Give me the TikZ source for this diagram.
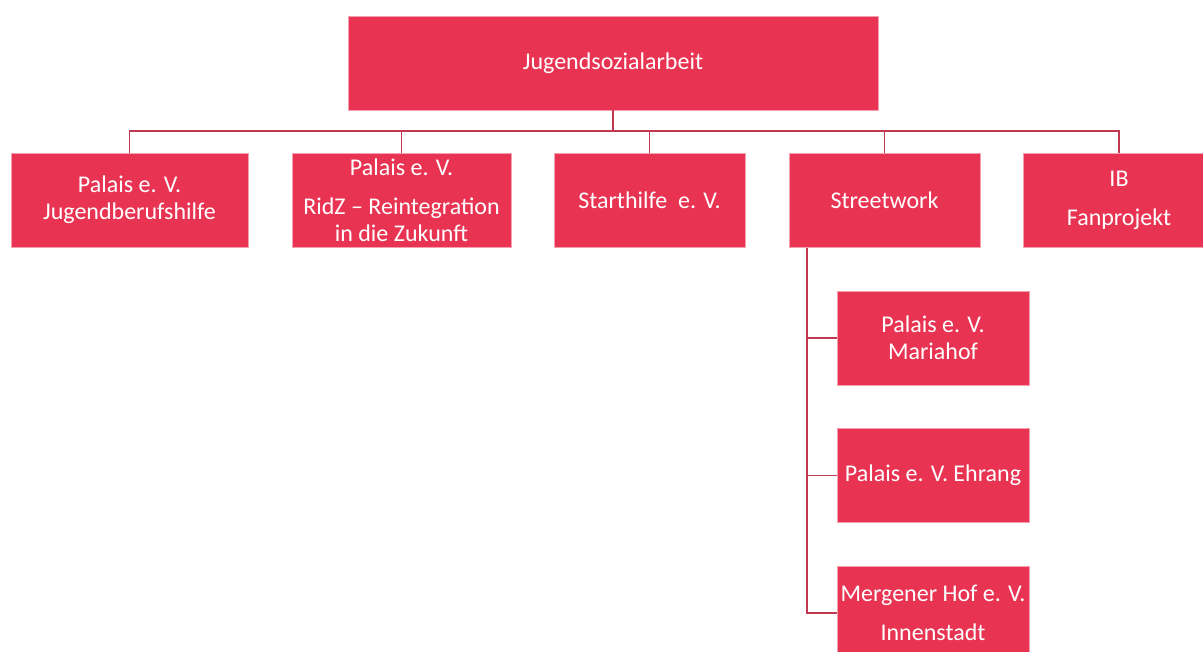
\documentclass[tikz,border=0pt]{standalone}
\usepackage{fontspec}
\setmainfont{Carlito}
\definecolor{boxred}{RGB}{232,52,82}
\definecolor{linered}{RGB}{192,56,82}
\definecolor{edgepink}{RGB}{246,160,175}
\begin{document}
\begin{tikzpicture}[x=1pt,y=-1pt,
  orgbox/.style={rectangle,fill=boxred,draw=edgepink,line width=0.6pt,inner sep=0pt,
    text=white,align=center,font=\fontsize{24}{27}\selectfont},
  conn/.style={draw=linered,line width=1.8pt}]
\clip (0,0) rectangle (1203,652);
\fill[white] (0,0) rectangle (1203,652);
\node[orgbox,minimum width=530pt,minimum height=94pt] (top) at (613,63) {Jugendsozialarbeit};
\node[orgbox,minimum width=237pt,minimum height=94pt] (b1) at (129.5,200) {Palais e. V.\\Jugendberufshilfe};
\node[orgbox,minimum width=219pt,minimum height=94pt] (b2) at (401.5,200) {Palais e. V.\\[12pt]RidZ -- Reintegration\\in die Zukunft};
\node[orgbox,minimum width=191pt,minimum height=94pt] (b3) at (649.5,200) {Starthilfe\ \ e. V.};
\node[orgbox,minimum width=191pt,minimum height=94pt] (b4) at (884.5,200) {Streetwork};
\node[orgbox,minimum width=192pt,minimum height=94pt] (b5) at (1119,200) {IB\\[12pt]Fanprojekt};
\node[orgbox,minimum width=192pt,minimum height=94pt] (s1) at (933,338) {Palais e. V.\\Mariahof};
\node[orgbox,minimum width=192pt,minimum height=94pt] (s2) at (933,475.5) {Palais e. V. Ehrang};
\node[orgbox,minimum width=192pt,minimum height=94pt] (s3) at (933,613) {Mergener Hof e. V.\\[12pt]Innenstadt};
\coordinate (bus) at (613,131);
\coordinate (sv) at (807,248);
\draw[conn] (top.south) -- (bus);
\draw[conn] (b1.north) |- (bus) -| (b5.north);
\draw[conn] (bus -| b2.north) -- (b2.north);
\draw[conn] (bus -| b3.north) -- (b3.north);
\draw[conn] (bus -| b4.north) -- (b4.north);
\draw[conn] (sv) |- (s3.west);
\draw[conn] (sv |- s1.west) -- (s1.west);
\draw[conn] (sv |- s2.west) -- (s2.west);
\end{tikzpicture}
\end{document}
